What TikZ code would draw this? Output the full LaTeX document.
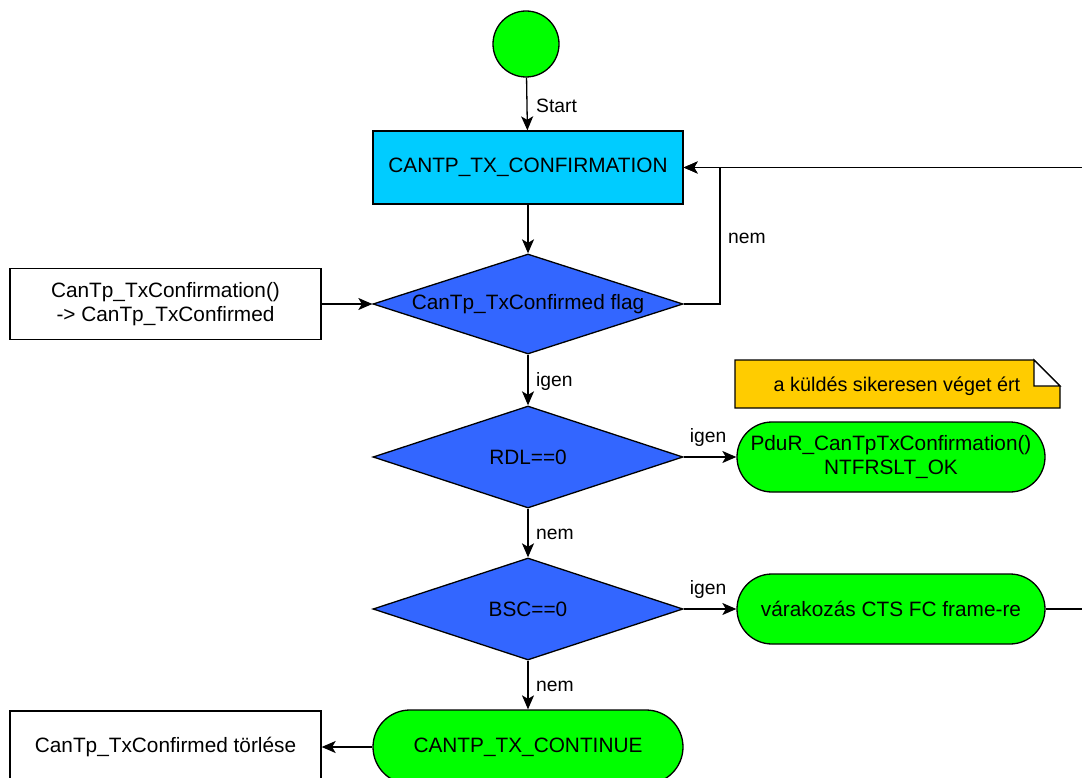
\documentclass[tikz,border=0pt]{standalone}
\usepackage{fontspec}
\setmainfont{Liberation Sans}
\usetikzlibrary{shapes.geometric,arrows.meta}
\definecolor{cyanbox}{RGB}{0,204,255}
\definecolor{bluedec}{RGB}{51,102,255}
\definecolor{greenst}{RGB}{0,255,0}
\definecolor{notey}{RGB}{255,204,0}
\tikzset{
  base/.style={draw=black, line width=1.3pt, font=\fontsize{20.8}{24.5}\selectfont, align=center, inner sep=0pt},
  statebox/.style={base, rectangle, fill=cyanbox, minimum width=310pt, minimum height=73pt},
  decision/.style={base, diamond, aspect=3.1, fill=bluedec, minimum width=310pt, minimum height=100pt},
  plainbox/.style={base, rectangle, fill=white, minimum width=311pt, minimum height=71pt},
  pill/.style={base, rectangle, rounded corners=35pt, fill=greenst, minimum width=308pt, minimum height=70pt},
  startdot/.style={base, circle, fill=greenst, minimum size=66pt},
  flow/.style={line width=1.3pt, -{Stealth[length=14pt,width=12pt,inset=3.5pt]}},
  plainline/.style={line width=1.3pt},
  lbl/.style={font=\fontsize{19.3}{22}\selectfont, inner sep=0pt}
}
\begin{document}
\begin{tikzpicture}[x=1pt,y=-1pt]
  \useasboundingbox (0,0) rectangle (1082,778);
  \clip (0,0) rectangle (1082,778);

  % nodes
  \node[startdot] (start) at (526,44) {};
  \node[statebox] (conf) at (528,167.5) {CANTP\_TX\_CONFIRMATION};
  \node[decision] (d1) at (528,304) {\raisebox{-4pt}{CanTp\_TxConfirmed flag}};
  \node[plainbox] (src) at (165.5,304) {CanTp\_TxConfirmation()\\-> CanTp\_TxConfirmed};
  \node[decision, minimum height=102pt] (d2) at (528,457) {RDL==0};
  \node[pill] (ok) at (891,457) {PduR\_CanTpTxConfirmation()\\NTFRSLT\_OK};
  \node[decision, minimum height=102pt] (d3) at (528,609) {BSC==0};
  \node[pill] (wait) at (891,609) {várakozás CTS FC frame-re};
  \node[pill, minimum width=310pt, minimum height=74pt, rounded corners=37pt] (cont) at (528,747) {CANTP\_TX\_CONTINUE};
  \node[plainbox, minimum height=72pt] (del) at (165.5,747) {CanTp\_TxConfirmed törlése};

  % note with folded corner
  \draw[line width=1.3pt, fill=notey] (735,360) -- (1034,360) -- (1060,386) -- (1060,408) -- (735,408) -- cycle;
  \draw[line width=1.3pt, fill=white] (1034,360) -- (1060,386) -- (1034,386) -- cycle;
  \node[lbl, font=\fontsize{19.8}{22}\selectfont] (note) at (897,386) {a küldés sikeresen véget ért};

  % connectors
  \draw[flow] (start) -- (conf);
  \node[lbl, anchor=west] (lstart) at (536,106) {Start};
  \draw[flow] (conf) -- (d1);
  \draw[flow] (src) -- (d1);
  \coordinate (loopc) at (720,304);
  \coordinate (loopt) at (720,167.5);
  \draw[flow] (d1.east) -- (loopc) -- (loopt) -- (conf.east);
  \node[lbl, anchor=west] (lnem1) at (728,238) {nem};
  \coordinate (rin) at (1082,167.5);
  \draw[flow] (rin) -- (conf.east);

  \draw[flow] (d1) -- (d2);
  \node[lbl, anchor=west] (ligen1) at (536,382) {igen};
  \draw[flow] (d2) -- (ok);
  \node[lbl] (ligen2) at (708,438) {igen};
  \draw[flow] (d2) -- (d3);
  \node[lbl, anchor=west] (lnem2) at (536,534) {nem};
  \draw[flow] (d3) -- (wait);
  \node[lbl] (ligen3) at (708,590) {igen};
  \coordinate (rout) at (1082,609);
  \draw[plainline] (wait.east) -- (rout);
  \draw[flow] (d3) -- (cont);
  \node[lbl, anchor=west] (lnem3) at (536,686) {nem};
  \draw[flow] (cont) -- (del);
\end{tikzpicture}
\end{document}
